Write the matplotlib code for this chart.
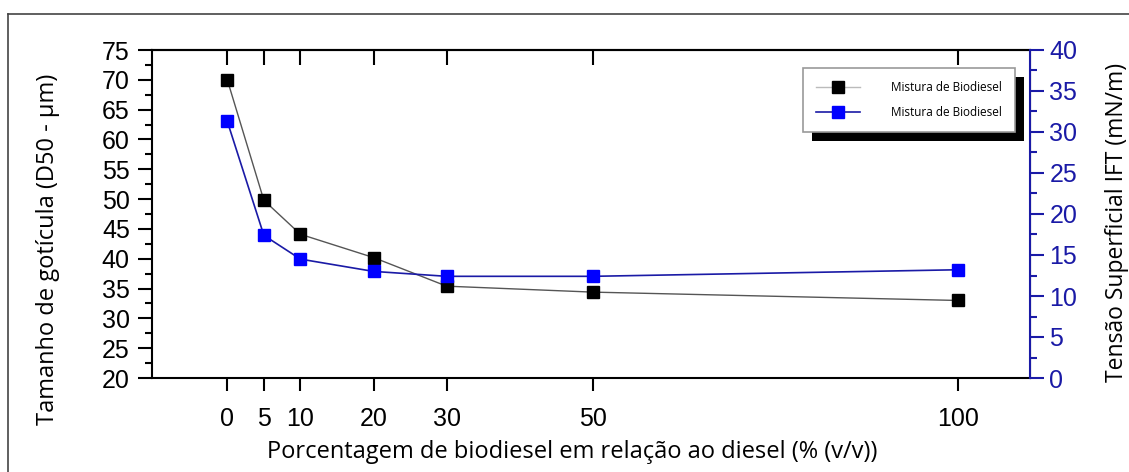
import numpy as np
import matplotlib.pyplot as plt
from matplotlib.lines import Line2D
from matplotlib.patches import Rectangle
from matplotlib.ticker import MultipleLocator

# percent biodiesel in the diesel blend
pct = [0, 5, 10, 20, 30, 50, 100]
d50_um = [70.0, 49.8, 44.1, 40.2, 35.4, 34.4, 33.0]     # droplet size, left axis
ift_mn_m = [31.3, 17.4, 14.5, 13.0, 12.4, 12.4, 13.2]   # interfacial tension, right axis

legend_labels = ["Mistura de Biodiesel", "Mistura de Biodiesel"]

TICK_FONT  = ["Liberation Sans Narrow", "Liberation Sans", "DejaVu Sans"]
LABEL_FONT = ["Open Sans", "DejaVu Sans"]
BLUE = "#1a1aa6"

fig = plt.figure(figsize=(11.29, 4.72), dpi=100)
ax = fig.add_axes([152 / 1129, 1 - 378 / 472, 878 / 1129, 328 / 472])
ax2 = ax.twinx()

# ── series ────────────────────────────────────────────
ax.plot(pct, d50_um, color="#555555", linewidth=1.0, marker="s",
        markersize=9, markerfacecolor="black", markeredgecolor="black", zorder=3)
ax2.plot(pct, ift_mn_m, color=BLUE, linewidth=1.2, marker="s",
         markersize=9, markerfacecolor="#0000ff", markeredgecolor="#0000ff", zorder=3)

ax.set_xlim(-10.3, 109.8)
ax.set_ylim(20, 75)
ax2.set_ylim(0, 40)

ax.set_xticks(pct)
ax.yaxis.set_major_locator(MultipleLocator(5))
ax.yaxis.set_minor_locator(MultipleLocator(2.5))
ax2.yaxis.set_major_locator(MultipleLocator(5))
ax2.yaxis.set_minor_locator(MultipleLocator(2.5))

ax.tick_params(axis="x", which="major", direction="out", length=9, width=1.5,
               pad=12, labelsize=18)
ax.tick_params(axis="y", which="major", direction="out", length=10, width=1.5,
               pad=6, labelsize=18)
ax.tick_params(axis="y", which="minor", direction="out", length=5, width=1.5)
ax2.tick_params(axis="y", which="major", direction="out", length=10, width=1.5,
                pad=4, labelsize=18, colors=BLUE)
ax2.tick_params(axis="y", which="minor", direction="out", length=5, width=1.5,
                colors=BLUE)

# top ticks, pointing into the plot
top = ax.secondary_xaxis("top")
top.set_xticks(pct)
top.tick_params(direction="in", length=11, width=1.5, labeltop=False)
top.spines["top"].set_linewidth(1.5)

for lab in ax.get_xticklabels() + ax.get_yticklabels() + ax2.get_yticklabels():
    lab.set_family(TICK_FONT)

for s in ("left", "top", "bottom"):
    ax.spines[s].set_linewidth(1.5)
ax2.spines["right"].set_color(BLUE)
ax2.spines["right"].set_linewidth(1.5)
for s in ("left", "top", "bottom"):
    ax2.spines[s].set_visible(False)

# ── axis labels ───────────────────────────────────────
fig.text(48 / 1129, 1 - 249 / 472, "Tamanho de gotícula (D50 - µm)",
         rotation=90, ha="center", va="center", fontsize=17, family=LABEL_FONT)
fig.text(1117 / 1129, 1 - 222 / 472, "Tensão Superficial IFT (mN/m)",
         rotation=90, ha="center", va="center", fontsize=16.5, family=LABEL_FONT)
fig.text(572 / 1129, 1 - 452 / 472,
         "Porcentagem de biodiesel em relação ao diesel (% (v/v))",
         ha="center", va="center", fontsize=17, family=LABEL_FONT)

# ── legend with hard black shadow ─────────────────────
h1 = Line2D([], [], color="#bbbbbb", linewidth=1.0, marker="s", markersize=9,
            markerfacecolor="black", markeredgecolor="black")
h2 = Line2D([], [], color=BLUE, linewidth=1.2, marker="s", markersize=9,
            markerfacecolor="#0000ff", markeredgecolor="#0000ff")
leg = ax2.legend([h1, h2], legend_labels, loc="upper left",
                 bbox_to_anchor=(0.741, 0.945), fancybox=False,
                 edgecolor="#999999", framealpha=1,
                 prop={"family": LABEL_FONT, "size": 8.5},
                 handlelength=3.8, handletextpad=2.6, borderpad=1.1,
                 labelspacing=1.0, borderaxespad=0)
leg.get_frame().set_linewidth(1.2)
leg.set_zorder(10)
fig.canvas.draw()
bb = leg.get_window_extent().transformed(ax2.transAxes.inverted())
shadow = Rectangle((bb.x0 + 9 / 878, bb.y0 - 9 / 328), bb.width, bb.height,
                   transform=ax2.transAxes, facecolor="black",
                   edgecolor="none", zorder=9, clip_on=False)
ax2.add_patch(shadow)

# outer frame (top and left edges visible)
fig.add_artist(Line2D([8 / 1129, 8 / 1129], [0, 1 - 14 / 472],
                      transform=fig.transFigure, color="#444444", linewidth=1.2))
fig.add_artist(Line2D([8 / 1129, 1], [1 - 14 / 472, 1 - 14 / 472],
                      transform=fig.transFigure, color="#444444", linewidth=1.2))

fig.savefig("out.png", dpi=100)
